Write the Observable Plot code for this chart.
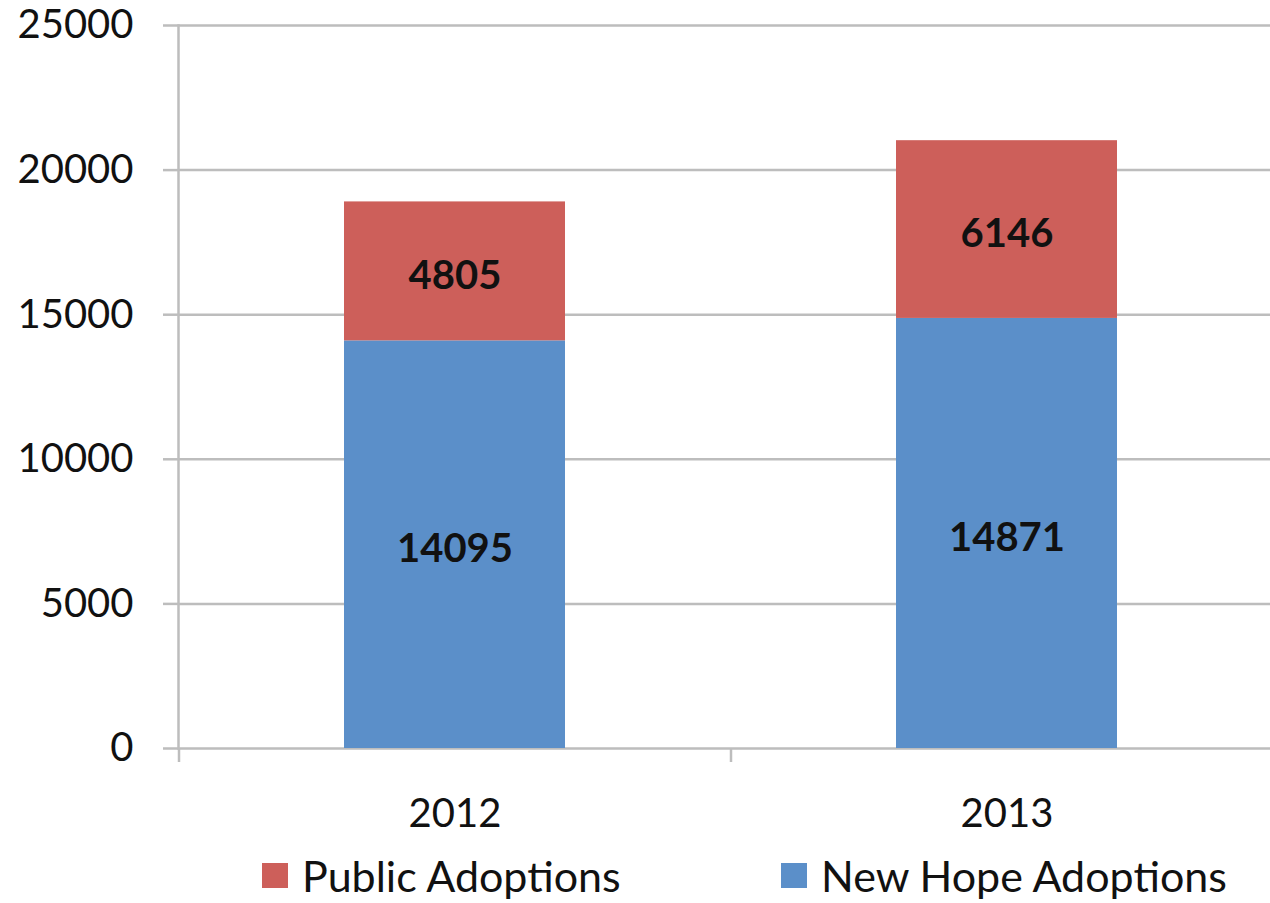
<!DOCTYPE html>
<html>
<head>
<meta charset="utf-8">
<script src="https://cdn.jsdelivr.net/npm/d3@7"></script>
<script src="https://cdn.jsdelivr.net/npm/@observablehq/plot@0.6"></script>
<style>
  html, body { margin: 0; padding: 0; background: #fff; overflow: hidden; }
  #legend { position: relative; height: 50px; font-family: Lato, "Open Sans", sans-serif; font-size: 43px; color: #111; }
  .item { position: absolute; top: 0; display: flex; align-items: center; height: 50px; }
  .sw { width: 26px; height: 25px; margin-right: 14px; }
</style>
</head>
<body>
<div id="chart"></div>
<div id="legend"></div>
<script>
const years = ["2012", "2013"];
const seriesNames = ["New Hope Adoptions", "Public Adoptions"];
const newHope = [14095, 14871];
const publicAdoptions = [4805, 6146];
const yTicks = [0, 5000, 10000, 15000, 20000, 25000];
const colors = {"Public Adoptions": "#cd5f5a", "New Hope Adoptions": "#5b8fc9"};

const rows = [];
years.forEach((y, i) => {
  rows.push({year: y, series: "New Hope Adoptions", value: newHope[i]});
  rows.push({year: y, series: "Public Adoptions", value: publicAdoptions[i]});
});

const W = 1270, H = 850;
const plot = Plot.plot({
  width: W,
  height: H,
  marginLeft: 178,
  marginRight: -12,
  marginTop: 25,
  marginBottom: 102,
  style: {fontFamily: "Lato, 'Open Sans', sans-serif", fontSize: "40px", color: "#111", background: "white"},
  x: {domain: years, paddingInner: 0.6, paddingOuter: 0.3, label: null},
  y: {domain: [0, 25000], label: null},
  color: {domain: seriesNames, range: seriesNames.map(s => colors[s])},
  marks: [
    Plot.gridY(yTicks, {stroke: "#bdbdbd", strokeOpacity: 1, strokeWidth: 2.5}),
    Plot.frame({anchor: "left", stroke: "#bdbdbd", strokeWidth: 2.5}),
    Plot.axisY(yTicks, {tickSize: 15, tickPadding: 30, stroke: "#bdbdbd", strokeWidth: 2.5, tickFormat: d => String(d), fill: "#111", fontSize: 40}),
    Plot.axisX(years, {tickSize: 14, stroke: "#bdbdbd", strokeWidth: 2.5, text: null, dx: -276}),
    Plot.axisX(years, {tickSize: 0, tickPadding: 50, fill: "#111", fontSize: 40}),
    Plot.barY(rows, Plot.stackY({x: "year", y: "value", fill: "series", order: seriesNames})),
    Plot.text(rows, Plot.stackY({x: "year", y: "value", z: "series", text: d => String(d.value), order: seriesNames, fontWeight: "bold", fontSize: 40, fill: "#111", dy: 5}))
  ]
});
document.getElementById("chart").appendChild(plot);

const legend = document.getElementById("legend");
const legendItems = [
  {name: "Public Adoptions", left: 262},
  {name: "New Hope Adoptions", left: 781}
];
legendItems.forEach(it => {
  const d = document.createElement("div");
  d.className = "item";
  d.style.left = it.left + "px";
  d.innerHTML = `<span class="sw" style="background:${colors[it.name]}"></span><span>${it.name}</span>`;
  legend.appendChild(d);
});
</script>
</body>
</html>
